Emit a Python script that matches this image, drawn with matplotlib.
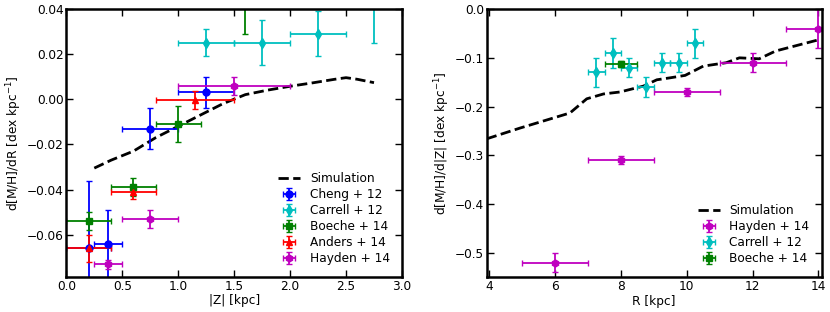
import matplotlib
matplotlib.use('Agg')
import matplotlib.pyplot as plt
import numpy as np

plt.rcParams['font.family'] = 'DejaVu Sans'
plt.rcParams['font.size'] = 8.7

# ---- left panel: d[M/H]/dR vs |Z|
sim_z = [0.25, 0.4, 0.6, 0.8, 1.0, 1.2, 1.4, 1.6, 1.8, 2.0, 2.2, 2.4, 2.5, 2.6, 2.75]
sim_dr = [-0.0305, -0.027, -0.023, -0.017, -0.012, -0.007, -0.002, 0.002, 0.004,
          0.0057, 0.0072, 0.0088, 0.0095, 0.0088, 0.0073]

cheng_z = [0.2, 0.375, 0.75, 1.25]
cheng_dr = [-0.066, -0.064, -0.013, 0.003]
cheng_zerr = [0.2, 0.125, 0.25, 0.25]
cheng_err = [0.03, 0.015, 0.009, 0.007]

carrell_z = [1.25, 1.75, 2.25, 2.75]
carrell_dr = [0.025, 0.025, 0.029, 0.045]
carrell_zerr = [0.25, 0.25, 0.25, 0.25]
carrell_err = [0.006, 0.01, 0.01, 0.02]

boeche_z = [0.2, 0.6, 1.0, 1.6]
boeche_dr = [-0.054, -0.039, -0.011, 0.05]
boeche_zerr = [0.2, 0.2, 0.2, 0.2]
boeche_err = [0.004, 0.004, 0.008, 0.021]

anders_z = [0.2, 0.6, 1.15]
anders_dr = [-0.066, -0.041, -0.0005]
anders_zerr = [0.2, 0.2, 0.35]
anders_err = [0.006, 0.003, 0.004]

hayden_z = [0.375, 0.75, 1.5]
hayden_dr = [-0.073, -0.053, 0.006]
hayden_zerr = [0.125, 0.25, 0.5]
hayden_err = [0.002, 0.004, 0.004]

# ---- right panel: d[M/H]/d|Z| vs R
sim_r = [3.92, 4.93, 6.45, 6.96, 7.47, 7.97, 8.68, 9.09, 9.49, 9.95, 10.5, 11.2, 11.6,
         12.2, 12.7, 13.95]
sim_dz = [-0.266, -0.244, -0.213, -0.184, -0.174, -0.17, -0.158, -0.145, -0.141, -0.136,
          -0.117, -0.11, -0.1, -0.102, -0.086, -0.064]

hay_r = [6, 8, 10, 12, 14]
hay_dz = [-0.52, -0.31, -0.17, -0.11, -0.04]
hay_rerr = [1, 1, 1, 1, 1]
hay_err = [0.02, 0.008, 0.008, 0.02, 0.04]

car_r = [7.25, 7.75, 8.25, 8.75, 9.25, 9.75, 10.25]
car_dz = [-0.13, -0.09, -0.12, -0.16, -0.11, -0.11, -0.07]
car_rerr = [0.25] * 7
car_err = [0.03, 0.03, 0.02, 0.02, 0.02, 0.02, 0.03]

boe_r = [8.0]
boe_dz = [-0.112]
boe_rerr = [0.5]
boe_err = [0.006]

fig = plt.figure(figsize=(8.3, 3.12), dpi=100)
ax1 = fig.add_axes([0.0799, 0.112, 0.4044, 0.860])
ax2 = fig.add_axes([0.5864, 0.111, 0.4036, 0.860])

eb = dict(ls='none', ms=5, capsize=2, elinewidth=1.3, capthick=1)

ax1.plot(sim_z, sim_dr, 'k--', lw=2, label='Simulation')
ax1.errorbar(cheng_z, cheng_dr, xerr=cheng_zerr, yerr=cheng_err, fmt='o', color='b',
             mec='b', label='Cheng + 12', **eb)
ax1.errorbar(carrell_z, carrell_dr, xerr=carrell_zerr, yerr=carrell_err, fmt='d', color='c',
             mec='c', label='Carrell + 12', **eb)
ax1.errorbar(boeche_z, boeche_dr, xerr=boeche_zerr, yerr=boeche_err, fmt='s', color='g',
             mec='g', label='Boeche + 14', **eb)
ax1.errorbar(anders_z, anders_dr, xerr=anders_zerr, yerr=anders_err, fmt='^', color='r',
             mec='r', label='Anders + 14', **eb)
ax1.errorbar(hayden_z, hayden_dr, xerr=hayden_zerr, yerr=hayden_err, fmt='h', color='m',
             mec='m', label='Hayden + 14', **eb)
ax1.set_xlim(0, 3)
ax1.set_ylim(-0.0787, 0.04)
ax1.set_xticks(np.arange(0, 3.01, 0.5))
ax1.set_yticks([-0.06, -0.04, -0.02, 0.0, 0.02, 0.04])
ax1.set_xlabel('|Z| [kpc]', labelpad=1)
ax1.set_ylabel(r'd[M/H]/dR [dex kpc$^{-1}$]', labelpad=2)
ax1.legend(loc='lower right', frameon=False, numpoints=1, handlelength=1.8,
           labelspacing=0.25, borderaxespad=0.6)

ax2.plot(sim_r, sim_dz, 'k--', lw=2, label='Simulation')
ax2.errorbar(hay_r, hay_dz, xerr=hay_rerr, yerr=hay_err, fmt='h', color='m', mec='m',
             label='Hayden + 14', **eb)
ax2.errorbar(car_r, car_dz, xerr=car_rerr, yerr=car_err, fmt='d', color='c', mec='c',
             label='Carrell + 12', **eb)
ax2.errorbar(boe_r, boe_dz, xerr=boe_rerr, yerr=boe_err, fmt='s', color='g', mec='g',
             label='Boeche + 14', **eb)
ax2.set_xlim(3.92, 14.1)
ax2.set_ylim(-0.55, 0.0)
ax2.set_xticks([4, 6, 8, 10, 12, 14])
ax2.set_yticks([-0.5, -0.4, -0.3, -0.2, -0.1, 0.0])
ax2.set_xlabel('R [kpc]', labelpad=1)
ax2.set_ylabel(r'd[M/H]/d|Z| [dex kpc$^{-1}$]', labelpad=2)
ax2.legend(loc='lower right', frameon=False, numpoints=1, handlelength=1.8,
           labelspacing=0.25, borderaxespad=0.6)

for ax in (ax1, ax2):
    ax.tick_params(direction='in', top=True, right=True, length=5, width=1,
                   labelsize=8.7, pad=2)
    for s in ax.spines.values():
        s.set_linewidth(1.8)

fig.savefig('out.png', dpi=100)
